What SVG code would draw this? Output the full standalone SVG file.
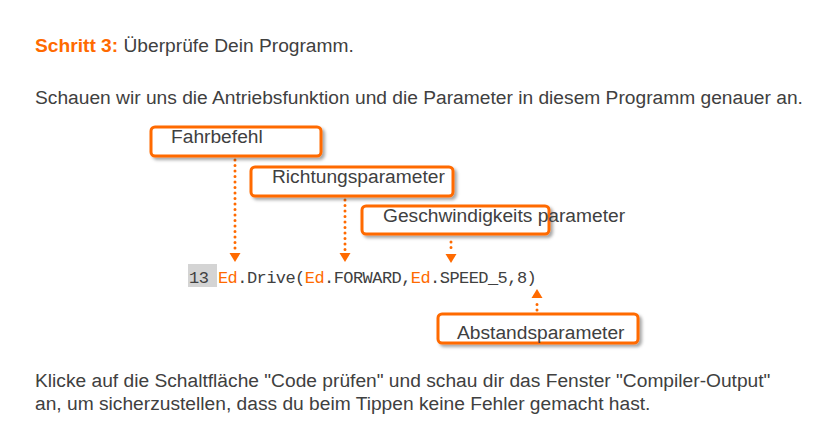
<svg xmlns="http://www.w3.org/2000/svg" width="828" height="430" viewBox="0 0 828 430">
  <style>
    .txt { font-family: "Liberation Sans", Arial, sans-serif; font-size: 19.2px; fill: #404040; }
    .hl { fill: #ff6a00; font-weight: bold; }
    .box { fill: #ffffff; stroke: #ff6a00; stroke-width: 3; filter: url(#shadow); }
    .code { font-family: "Liberation Mono", "DejaVu Sans Mono", monospace; font-size: 17px; letter-spacing: -0.56px; fill: #404040; }
    .ed { fill: #ff6a00; }
    .dots { fill: none; stroke: #ff6a00; stroke-width: 3; stroke-linecap: round; stroke-dasharray: 0 5.5; }
    .head { fill: #ff6a00; }
  </style>
  <defs>
    <filter id="shadow" x="-10%" y="-30%" width="125%" height="170%">
      <feDropShadow dx="2.5" dy="2.5" stdDeviation="1.8" flood-color="#000" flood-opacity="0.35"/>
    </filter>
  </defs>

  <rect width="828" height="430" fill="#ffffff"/>

  <!-- heading and intro -->
  <text class="txt" x="35" y="52"><tspan class="hl">Schritt 3:</tspan> Überprüfe Dein Programm.</text>
  <text class="txt" x="35" y="104">Schauen wir uns die Antriebsfunktion und die Parameter in diesem Programm genauer an.</text>

  <!-- code line -->
  <g id="code">
    <rect x="188" y="264" width="29" height="23" fill="#d4d4d4"/>
    <text class="code" x="189" y="283">13 <tspan class="ed">Ed</tspan>.Drive(<tspan class="ed">Ed</tspan>.FORWARD,<tspan class="ed">Ed</tspan>.SPEED_5,8)</text>
  </g>

  <!-- connectors -->
  <g id="connectors">
    <line class="dots" x1="235" y1="160" x2="235" y2="252"/>
    <path class="head" d="M229.5 253 L240.5 253 L235 262 Z"/>
    <line class="dots" x1="345" y1="200" x2="345" y2="252"/>
    <path class="head" d="M339.5 253 L350.5 253 L345 262 Z"/>
    <line class="dots" x1="451" y1="242" x2="451" y2="253"/>
    <path class="head" d="M445.5 254 L456.5 254 L451 263 Z"/>
    <line class="dots" x1="537" y1="310" x2="537" y2="299"/>
    <path class="head" d="M531.5 298 L542.5 298 L537 289 Z"/>
  </g>

  <!-- label nodes -->
  <g id="fahrbefehl">
    <rect class="box" x="151" y="127" width="170" height="29" rx="4"/>
    <text class="txt" x="171" y="143">Fahrbefehl</text>
  </g>
  <g id="richtungsparameter">
    <rect class="box" x="251" y="167" width="202" height="29" rx="4"/>
    <text class="txt" x="272" y="183">Richtungsparameter</text>
  </g>
  <g id="geschwindigkeitsparameter">
    <rect class="box" x="362" y="206" width="187" height="28" rx="4"/>
    <text class="txt" x="383" y="222">Geschwindigkeits parameter</text>
  </g>
  <g id="abstandsparameter">
    <rect class="box" x="438" y="314" width="200" height="29" rx="4"/>
    <text class="txt" x="457" y="339">Abstandsparameter</text>
  </g>

  <!-- closing paragraph -->
  <text class="txt" x="35" y="387">Klicke auf die Schaltfläche "Code prüfen" und schau dir das Fenster "Compiler-Output"</text>
  <text class="txt" x="35" y="410">an, um sicherzustellen, dass du beim Tippen keine Fehler gemacht hast.</text>
</svg>
